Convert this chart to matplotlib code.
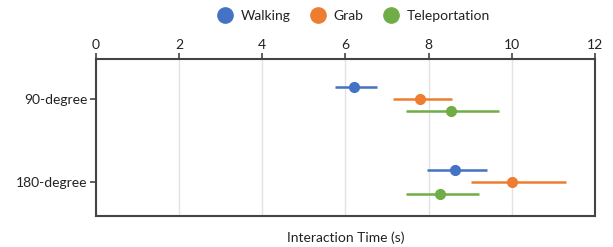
import matplotlib
matplotlib.use("Agg")
import matplotlib.pyplot as plt
from matplotlib.lines import Line2D

plt.rcParams['font.family'] = ['Lato', 'DejaVu Sans']

categories = ["90-degree", "180-degree"]
series = ["Walking", "Grab", "Teleportation"]
colors = ["#4472C4", "#ED7D31", "#70AD47"]
means = {
    "Walking": [6.2, 8.63],
    "Grab": [7.8, 10.01],
    "Teleportation": [8.53, 8.27],
}
lows = {
    "Walking": [5.75, 7.95],
    "Grab": [7.14, 9.01],
    "Teleportation": [7.45, 7.45],
}
highs = {
    "Walking": [6.75, 9.4],
    "Grab": [8.56, 11.3],
    "Teleportation": [9.69, 9.2],
}
offsets = [-0.145, 0.0, 0.145]
xticks = [0, 2, 4, 6, 8, 10, 12]

fig = plt.figure(figsize=(6.13, 2.47), dpi=100)
ax = fig.add_axes([0.1566, 0.1255, 0.814, 0.6355])

for s, c, off in zip(series, colors, offsets):
    for i in range(len(categories)):
        m = means[s][i]
        lo = m - lows[s][i]
        hi = highs[s][i] - m
        ax.errorbar([m], [i + off], xerr=[[lo], [hi]], fmt='o', color=c,
                    ms=7, elinewidth=1.8, capsize=0, zorder=3)

ax.set_xlim(0, 12)
ax.set_ylim(1.41, -0.48)
ax.set_xticks(xticks)
ax.set_yticks(range(len(categories)))
ax.set_yticklabels(categories)
ax.xaxis.tick_top()
ax.tick_params(axis='x', which='both', top=True, bottom=False, direction='out',
               length=4, width=1.2, color='#444444', labelsize=10, pad=2,
               labelcolor='#222222')
ax.tick_params(axis='y', direction='out', length=4, width=1.2, color='#444444',
               labelsize=10, pad=2, labelcolor='#222222')
for sp in ax.spines.values():
    sp.set_color('#444444')
    sp.set_linewidth(1.5)
ax.grid(axis='x', color='#e3e3e3', linewidth=1)
ax.set_axisbelow(True)
ax.set_xlabel("Interaction Time (s)", fontsize=10, labelpad=11, color='#222222')

handles = [Line2D([], [], marker='o', linestyle='', color=c, ms=11) for c in colors]
fig.legend(handles, series, loc='upper center', bbox_to_anchor=(0.572, 1.01),
           ncol=3, frameon=False, fontsize=10, handletextpad=0.1, columnspacing=1.0,
           labelcolor='#222222')

fig.savefig("out.png", dpi=100)
